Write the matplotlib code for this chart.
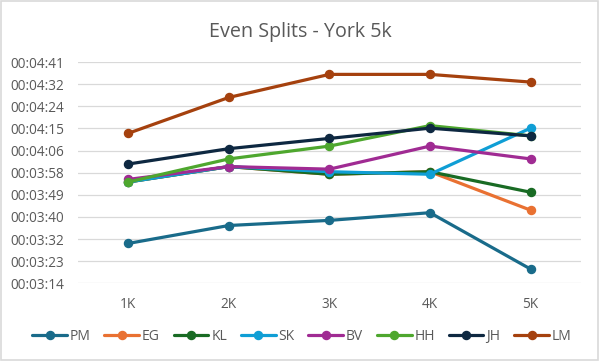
import matplotlib.pyplot as plt
from matplotlib.ticker import FixedLocator, FuncFormatter

plt.rcParams["font.family"] = ["Open Sans", "DejaVu Sans"]

# Split labels and each runner's split times (m:ss)
splits = ["1K", "2K", "3K", "4K", "5K"]
PM = ["3:30", "3:37", "3:39", "3:42", "3:20"]
EG = ["3:54", "4:00", "3:57", "3:58", "3:43"]
KL = ["3:54", "4:00", "3:57", "3:58", "3:50"]
SK = ["3:54", "4:00", "3:58", "3:57", "4:15"]
BV = ["3:55", "4:00", "3:59", "4:08", "4:03"]
HH = ["3:54", "4:03", "4:08", "4:16", "4:12"]
JH = ["4:01", "4:07", "4:11", "4:15", "4:12"]
LM = ["4:13", "4:27", "4:36", "4:36", "4:33"]

runners = ["PM", "EG", "KL", "SK", "BV", "HH", "JH", "LM"]
series = [PM, EG, KL, SK, BV, HH, JH, LM]
colors = ["#196B8A", "#E97132", "#196B24", "#0F9ED5",
          "#A02B93", "#4EA72E", "#0E2841", "#A5410E"]


def to_sec(t):
    m, s = t.split(":")
    return int(m) * 60 + int(s)


def fmt_time(v, pos=None):
    v = int(round(v))
    return "00:%02d:%02d" % (v // 60, v % 60)


fig = plt.figure(figsize=(6, 3.61), dpi=100)
ax = fig.add_axes([0.13, 0.215, 0.838, 0.613])

x = list(range(len(splits)))
for name, vals, c in zip(runners, series, colors):
    ax.plot(x, [to_sec(t) for t in vals], color=c, lw=2.3, marker="o",
            markersize=5.8, label=name, solid_capstyle="round")

# Excel-style axis: step of 0.0001 day
step = 8.64
lo = 194.4
ticks = [lo + step * i for i in range(11)]
ax.set_ylim(ticks[0], ticks[-1])
ax.yaxis.set_major_locator(FixedLocator(ticks))
ax.yaxis.set_major_formatter(FuncFormatter(fmt_time))
ax.set_xlim(-0.5, len(splits) - 0.5)
ax.set_xticks(x)
ax.set_xticklabels(splits)

ax.grid(axis="y", color="#D9D9D9", lw=0.9)
ax.set_axisbelow(True)
for s in ax.spines.values():
    s.set_visible(False)
ax.tick_params(length=0, labelsize=9.8, colors="#595959", pad=10)
ax.tick_params(axis="x", pad=10)

fig.suptitle("Even Splits - York 5k", y=0.94, fontsize=14.2, color="#595959")

fig.legend(loc="center", bbox_to_anchor=(0.503, 0.069), ncol=8,
           frameon=False, fontsize=10, labelcolor="#595959",
           handlelength=2.5, handletextpad=0.2, columnspacing=1.0)

# light border around the chart area
fig.patches.append(plt.Rectangle((0.002, 0.003), 0.995, 0.993,
                                 transform=fig.transFigure, fill=False,
                                 edgecolor="#D9D9D9", lw=1.2))

fig.savefig("out.png", dpi=100)
